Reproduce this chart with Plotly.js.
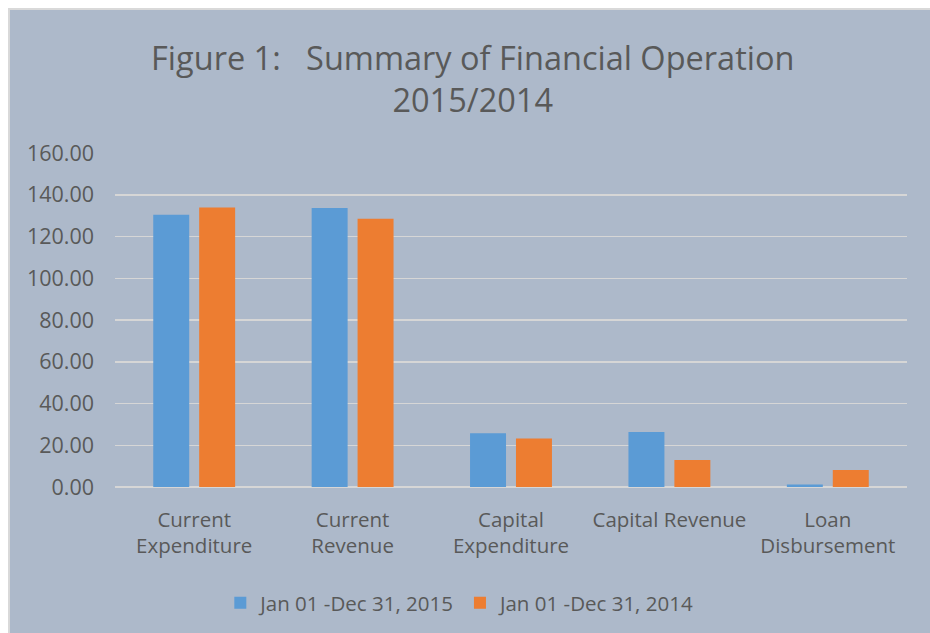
<!DOCTYPE html>
<html>
<head>
<meta charset="utf-8">
<script src="https://cdn.plot.ly/plotly-3.0.1.min.js"></script>
<style>
  html, body { margin: 0; padding: 0; background: #ffffff; width: 930px; height: 633px; overflow: hidden; }
  #frame { position: absolute; left: 8px; top: 8px; width: 922px; height: 625px; border-left: 2px solid #d9d9d9; border-top: 2px solid #d9d9d9; box-sizing: border-box; }
  #chart { width: 920px; height: 623px; }
</style>
</head>
<body>
<div id="frame"><div id="chart"></div></div>
<script>
var categories = ["Current<br>Expenditure", "Current<br>Revenue", "Capital<br>Expenditure", "Capital Revenue", "Loan<br>Disbursement"];
var series2015 = [130.4, 133.7, 25.8, 26.3, 1.2];
var series2014 = [133.9, 128.5, 23.2, 12.9, 8.1];
var seriesNames = ["Jan 01 -Dec 31, 2015", "Jan 01 -Dec 31, 2014"];
var yTicks = [0, 20, 40, 60, 80, 100, 120, 140, 160];

var txt = "#595959";
var fontFam = "'Open Sans', 'Noto Sans', sans-serif";

var data = [
  { type: "bar", name: seriesNames[0], x: categories, y: series2015, marker: { color: "#5B9BD5" }, hoverinfo: "y" },
  { type: "bar", name: seriesNames[1], x: categories, y: series2014, marker: { color: "#ED7D31" }, hoverinfo: "y" }
];

var layout = {
  width: 920, height: 623,
  paper_bgcolor: "#ADB9CA",
  plot_bgcolor: "#ADB9CA",
  font: { family: fontFam, color: txt },
  title: {
    text: "Figure 1:   Summary of Financial Operation<br>2015/2014",
    font: { size: 32.5, color: txt, family: fontFam },
    x: 0.503, xanchor: "center",
    y: 0.904, yanchor: "middle", yref: "container"
  },
  margin: { l: 105, r: 23, t: 143, b: 145 },
  barmode: "group",
  bargap: 0.42,
  bargroupgap: 0.217,
  xaxis: {
    type: "category",
    showgrid: false,
    showline: false,
    ticks: "",
    tickfont: { size: 20.5, color: txt },
    ticklabelstandoff: 18,
    fixedrange: true
  },
  yaxis: {
    range: [0, 160],
    tickvals: yTicks,
    ticktext: yTicks.map(function (v) { return v.toFixed(2); }),
    showgrid: true,
    gridcolor: "#D6D6D6",
    gridwidth: 1.5,
    zeroline: true,
    zerolinecolor: "#D6D6D6",
    zerolinewidth: 1.5,
    showline: false,
    ticks: "",
    tickfont: { size: 21.5, color: txt },
    ticklabelstandoff: 20,
    fixedrange: true
  },
  showlegend: true,
  legend: {
    orientation: "h",
    x: 0.436, xanchor: "center",
    y: -0.343, yanchor: "middle",
    font: { size: 20.5, color: txt },
    bgcolor: "rgba(0,0,0,0)",
    itemwidth: 30,
    traceorder: "normal"
  }
};

Plotly.newPlot("chart", data, layout, { displayModeBar: false, staticPlot: true });
</script>
</body>
</html>
